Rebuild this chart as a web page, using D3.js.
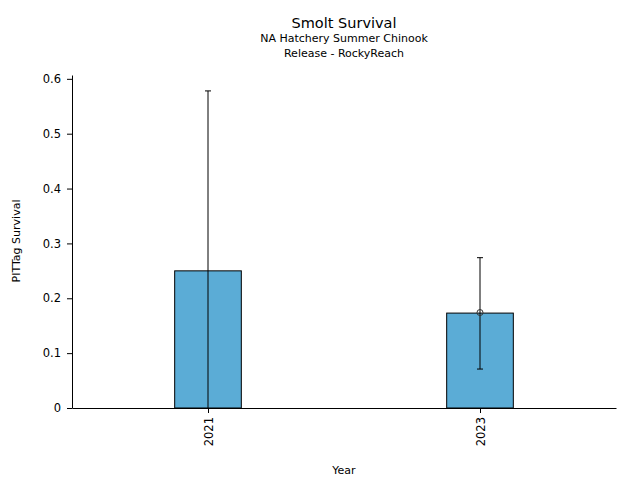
<!DOCTYPE html>
<html>
<head>
<meta charset="utf-8">
<title>Smolt Survival</title>
<script src="https://cdn.jsdelivr.net/npm/d3@7"></script>
<style>
	html, body{
		margin: 0;
		background: white;
		font-family: 'DejaVu Sans', sans-serif;
	}
	text{
		fill: #000;
	}
</style>
</head>
<body>
<div id="chart"></div>
<script>
	// data
	var years = [2021, 2023];
	var survival = [0.250, 0.173];
	var errLow = [0.0, 0.071];
	var errHigh = [0.578, 0.274];
	var markers = [null, 0.174];
	var yTicks = [0, 0.1, 0.2, 0.3, 0.4, 0.5, 0.6];
	var yTickLabels = ['0', '0.1', '0.2', '0.3', '0.4', '0.5', '0.6'];

	var width = 640,
		height = 480,
		plotLeft = 72,
		plotRight = 616,
		plotTop = 75,
		plotBottom = 408;

	var svg = d3.select('#chart').append('svg')
		.attr('width', width)
		.attr('height', height);

	var x = d3.scaleLinear().domain([2020, 2024]).range([plotLeft, plotRight]);
	var y = d3.scaleLinear().domain([0, 0.607]).range([plotBottom, plotTop]);
	var barW = x(2020.49) - x(2020);

	// bars
	svg.selectAll('rect.bar')
		.data(years)
		.enter().append('rect')
		.attr('class', 'bar')
		.attr('x', function(d){ return x(d) - barW / 2; })
		.attr('y', function(d, i){ return y(survival[i]); })
		.attr('width', barW)
		.attr('height', function(d, i){ return plotBottom - y(survival[i]); })
		.attr('fill', '#5BACD6')
		.attr('stroke', '#000')
		.attr('stroke-width', 1);

	// error bars
	var eb = svg.selectAll('g.err')
		.data(years)
		.enter().append('g')
		.attr('class', 'err');

	eb.append('line')
		.attr('x1', function(d){ return x(d); })
		.attr('x2', function(d){ return x(d); })
		.attr('y1', function(d, i){ return y(errLow[i]); })
		.attr('y2', function(d, i){ return y(errHigh[i]); })
		.attr('stroke', '#000')
		.attr('stroke-width', 1);

	eb.append('line')
		.attr('x1', function(d){ return x(d) - 3; })
		.attr('x2', function(d){ return x(d) + 3; })
		.attr('y1', function(d, i){ return y(errHigh[i]); })
		.attr('y2', function(d, i){ return y(errHigh[i]); })
		.attr('stroke', '#000');

	eb.filter(function(d, i){ return errLow[i] > 0; })
		.append('line')
		.attr('x1', function(d){ return x(d) - 3; })
		.attr('x2', function(d){ return x(d) + 3; })
		.attr('y1', function(d){ return y(errLow[years.indexOf(d)]); })
		.attr('y2', function(d){ return y(errLow[years.indexOf(d)]); })
		.attr('stroke', '#000');

	svg.selectAll('circle.pt')
		.data(years.filter(function(d, i){ return markers[i] !== null; }))
		.enter().append('circle')
		.attr('class', 'pt')
		.attr('cx', function(d){ return x(d); })
		.attr('cy', function(d){ return y(markers[years.indexOf(d)]); })
		.attr('r', 3)
		.attr('fill', 'none')
		.attr('stroke', '#333')
		.attr('stroke-width', 1);

	// axes
	var yAxis = d3.axisLeft(y)
		.tickValues(yTicks)
		.tickFormat(function(d, i){ return yTickLabels[i]; })
		.tickSize(5)
		.tickSizeOuter(0)
		.tickPadding(6);

	svg.append('g')
		.attr('transform', 'translate(' + plotLeft + ',0)')
		.call(yAxis)
		.call(function(g){
			g.selectAll('text').style('font-size', '11.5px').style('font-family', 'DejaVu Sans');
		});

	var xAxis = d3.axisBottom(x)
		.tickValues(years)
		.tickFormat(d3.format('d'))
		.tickSize(5)
		.tickSizeOuter(0);

	svg.append('g')
		.attr('transform', 'translate(0,' + plotBottom + ')')
		.call(xAxis)
		.call(function(g){
			g.selectAll('text')
				.style('font-size', '11.5px')
				.style('font-family', 'DejaVu Sans')
				.attr('transform', 'rotate(-90)')
				.attr('text-anchor', 'end')
				.attr('x', -9)
				.attr('y', 0)
				.attr('dy', '0.35em');
		});

	svg.selectAll('.domain').attr('stroke', '#000');

	// titles
	svg.append('text')
		.attr('x', 344).attr('y', 28)
		.attr('text-anchor', 'middle')
		.style('font-size', '14.5px')
		.text('Smolt Survival');

	svg.append('text')
		.attr('x', 344).attr('y', 42)
		.attr('text-anchor', 'middle')
		.style('font-size', '11px')
		.text('NA Hatchery Summer Chinook');

	svg.append('text')
		.attr('x', 344).attr('y', 57)
		.attr('text-anchor', 'middle')
		.style('font-size', '11px')
		.text('Release - RockyReach');

	svg.append('text')
		.attr('x', 344).attr('y', 474)
		.attr('text-anchor', 'middle')
		.style('font-size', '11px')
		.text('Year');

	svg.append('text')
		.attr('transform', 'translate(20,241) rotate(-90)')
		.attr('text-anchor', 'middle')
		.style('font-size', '11px')
		.text('PITTag Survival');
</script>
</body>
</html>
